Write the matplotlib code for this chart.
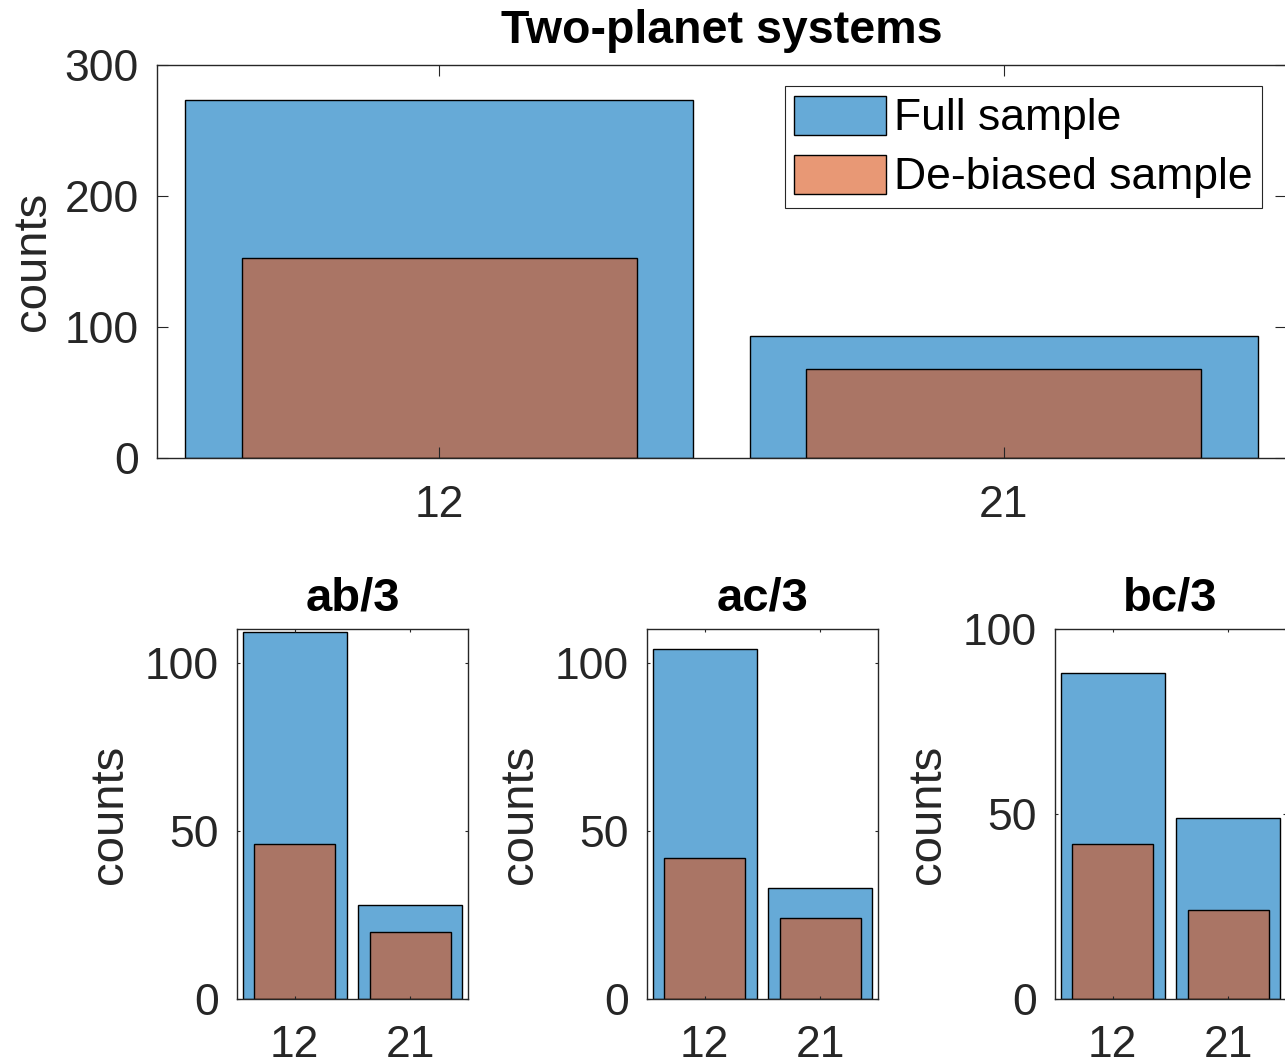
import numpy as np
import matplotlib
matplotlib.use('Agg')
from matplotlib import pyplot as plt

plt.rcParams['font.family'] = ['Liberation Sans', 'DejaVu Sans']

# resonance categories and counts
categories = ['12', '21']
full_all = [273, 93]
debiased_all = [153, 68]

panel_titles = ['ab/3', 'ac/3', 'bc/3']
full_ab = [109, 28]
debiased_ab = [46, 20]
full_ac = [104, 33]
debiased_ac = [42, 24]
full_bc = [88, 49]
debiased_bc = [42, 24]
panel_ylims = [110, 110, 100]

# MATLAB-like colours with face alpha 0.6
blue = (0.0, 0.447, 0.741, 0.6)
orange = (0.85, 0.325, 0.098, 0.6)
axcol = '#262626'

W, H = 1285, 1061
fig = plt.figure(figsize=(W / 100, H / 100), dpi=100)


def make_axes(left, top, right, bottom):
    # position given in pixels from the top-left corner
    return fig.add_axes([left / W, 1 - bottom / H, (right - left) / W, (bottom - top) / H])


def style_axes(ax, ticklen, xpad, ypad):
    ax.tick_params(direction='in', top=True, right=True, length=ticklen, width=0.8,
                   color=axcol, labelcolor=axcol, labelsize=32)
    ax.tick_params(axis='x', pad=xpad)
    ax.tick_params(axis='y', pad=ypad)
    for s in ax.spines.values():
        s.set_color(axcol)
        s.set_linewidth(1.0)


def draw_bars(ax, full, debiased):
    x = np.arange(1, len(categories) + 1)
    ax.bar(x, full, width=0.9, facecolor=blue, edgecolor='k', linewidth=1.0, label='Full sample')
    ax.bar(x, debiased, width=0.7, facecolor=orange, edgecolor='k', linewidth=1.0, label='De-biased sample')
    ax.set_xticks(x)
    ax.set_xticklabels(categories)
    ax.set_xlim(0.5, len(categories) + 0.5)


# top panel: all two-planet systems
ax = make_axes(157, 65, 1286, 458)
draw_bars(ax, full_all, debiased_all)
ax.set_ylim(0, 300)
ax.set_yticks([0, 100, 200, 300])
style_axes(ax, 8, 19.5, 13)
ax.set_ylabel('counts', fontsize=34, color=axcol, labelpad=7)
ax.set_title('Two-planet systems', fontsize=33.5, fontweight='bold', pad=16)
leg = ax.legend(loc='upper right', bbox_to_anchor=(1262 / W, 1 - 86 / H),
                bbox_transform=fig.transFigure, borderaxespad=0, fontsize=32,
                handlelength=2.05, handleheight=0.97, handletextpad=0.18,
                borderpad=0.22, labelspacing=0.34, fancybox=False, framealpha=1)
leg.get_frame().set_edgecolor(axcol)
leg.get_frame().set_linewidth(0.8)

# bottom panels: individual pairs
lefts = [237, 647, 1055]
fulls = [full_ab, full_ac, full_bc]
debiaseds = [debiased_ab, debiased_ac, debiased_bc]
for left, title, full, deb, ymax in zip(lefts, panel_titles, fulls, debiaseds, panel_ylims):
    ax = make_axes(left, 629, left + 231, 999)
    draw_bars(ax, full, deb)
    ax.set_ylim(0, ymax)
    ax.set_yticks([0, 50, 100])
    style_axes(ax, 2.5, 19, 13)
    ax.set_ylabel('counts', fontsize=34, color=axcol, labelpad=9)
    ax.set_title(title, fontsize=34, fontweight='bold', pad=13)

fig.savefig('out.png', dpi=100)
